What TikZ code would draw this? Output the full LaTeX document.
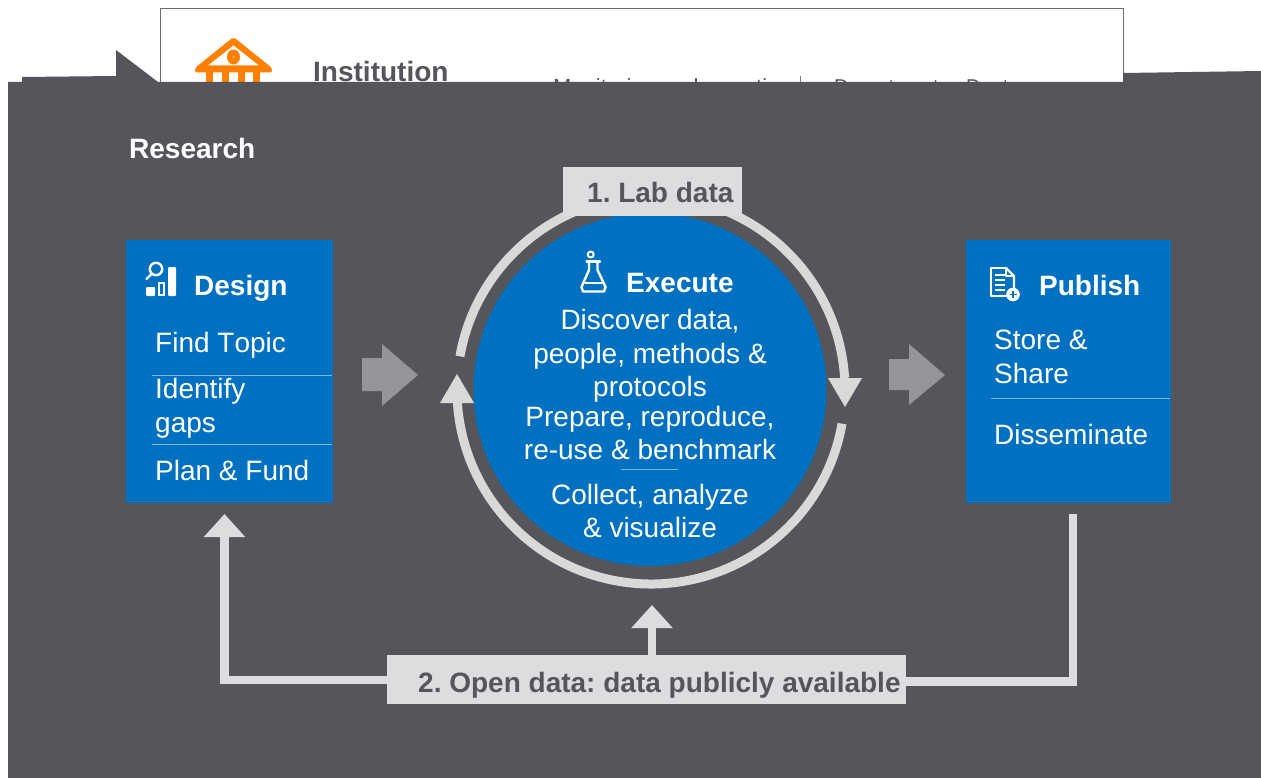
\documentclass[tikz,border=0pt]{standalone}
\usepackage{fontspec}
\setmainfont[Kerning=Off]{Liberation Sans}
\AtBeginDocument{\frenchspacing}
\usetikzlibrary{arrows.meta,calc}
\definecolor{darkbg}{HTML}{54565B}
\definecolor{boxblue}{HTML}{0070C0}
\definecolor{lightbox}{HTML}{DCDDDF}
\definecolor{ringgrey}{HTML}{D9D9D9}
\definecolor{blockgrey}{HTML}{939598}
\definecolor{divider}{HTML}{7FB4DE}
\definecolor{iconorange}{HTML}{FF8000}
\tikzset{
  big/.style={font=\fontsize{28}{34}\selectfont, inner sep=0pt, text=white},
  bigbold/.style={font=\fontsize{28}{34}\selectfont\bfseries, inner sep=0pt, text=white},
  lefttext/.style={anchor=base west},
  midtext/.style={anchor=base},
  bluebox/.style={fill=boxblue, draw=none, inner sep=0pt, rectangle},
  labelbox/.style={fill=lightbox, draw=none, inner sep=0pt, rectangle},
  labeltext/.style={font=\fontsize{28}{34}\selectfont\bfseries, text=darkbg, inner sep=0pt, anchor=base west},
  ring/.style={draw=ringgrey, line width=9pt},
  feed/.style={draw=lightbox, line width=8.5pt},
  feedtip/.style={-{Triangle[length=23pt,width=40pt]}},
  divline/.style={draw=divider, line width=0.8pt},
  iconline/.style={draw=white, line width=2.4pt, line join=round, line cap=round},
  blockarrow/.style={fill=blockgrey, draw=none},
}
\begin{document}
\begin{tikzpicture}[x=1pt,y=-1pt]
\useasboundingbox (0,0) rectangle (1261,778);
\fill[white] (0,0) rectangle (1261,778);
% institution panel
\draw[draw=gray!85!black, line width=1pt] (160.5,8.5) rectangle (1123.5,100);
\fill[iconorange,rounded corners=2pt] (233.5,37) -- (272,68) -- (272,72.5) -- (195,72.5) -- (195,68) -- cycle;
\fill[white] (233.5,45.5) -- (259,65.5) -- (208,65.5) -- cycle;
\fill[iconorange] (233.5,57) circle[x radius=6.5, y radius=7.5];
\fill[white!40!iconorange] (233.5,57) circle[radius=1.2];
\foreach \cx in {206,222,238,253}{\fill[iconorange] (\cx,72) rectangle ++(7,13);}
\node[lefttext, inner sep=0pt, text=darkbg, font=\fontsize{28}{34}\selectfont\bfseries] (inst) at (313,82) {Institution};
\node[lefttext, inner sep=0pt, text=darkbg, font=\fontsize{22}{26}\selectfont] (mon) at (553,95) {Monitoring and reporting};
\draw[draw=gray, line width=0.8pt] (800.5,76) -- (800.5,100);
\node[lefttext, inner sep=0pt, text=darkbg, font=\fontsize{20}{24}\selectfont] (dep1) at (834,93.5) {Department};
\node[lefttext, inner sep=0pt, text=darkbg, font=\fontsize{20}{24}\selectfont] (dep2) at (966,93.5) {Dept};
% dark panel
\fill[darkbg] (8,82) -- (22,82) -- (22,77) -- (116,76) -- (116,50) -- (158,82) -- (1123,82) -- (1123,73) -- (1261,71) -- (1261,778) -- (8,778) -- cycle;
\node[bigbold, lefttext] (research) at (129,159) {Research};
% rings
\coordinate (hub) at (651,390);
\coordinate (labtip) at (845,407);
\coordinate (looptip) at (457,374);
\draw[ring] ($(hub)+(-170:194)$) arc[start angle=-170,end angle=-3.8,radius=194] -- (845.5,379);
\draw[ring] ($(hub)+(10:194)$) arc[start angle=10,end angle=176.5,radius=194] -- (457,403);
\node[circle, fill=boxblue, draw=none, minimum size=353pt, inner sep=0pt] (exec) at (650,389.5) {};
\fill[ringgrey] (828,378) -- (862,378) -- (labtip) -- cycle;
\fill[ringgrey] (440,403) -- (474,403) -- (looptip) -- cycle;
% boxes
\node[bluebox, minimum width=207pt, minimum height=263pt] (design) at (229.5,371.5) {};
\node[bluebox, minimum width=205pt, minimum height=263pt] (publish) at (1068.5,371.5) {};
\node[labelbox, minimum width=179pt, minimum height=49pt] (lab) at (652.5,191.5) {};
\node[labeltext] (labtext) at (587,203) {1. Lab data};
\node[labelbox, minimum width=519pt, minimum height=49pt] (open) at (646.5,679.5) {};
\node[labeltext] (opentext) at (418,692) {2. Open data: data publicly available};
% feedback connectors
\coordinate (designin) at (224.5,514);
\coordinate (publishout) at (1073,514);
\coordinate (execin) at (652,605);
\draw[feed, feedtip] (open.west |- 0,680) -- (224.5,680) -- (designin);
\draw[feed] (open.east |- 0,681.5) -- (1073,681.5) -- (publishout);
\draw[feed, feedtip] (open.north -| execin) -- (execin);
% block arrows
\fill[blockarrow] (362,358) -- (382,358) -- (382,344) -- (418,375) -- (382,406) -- (382,391) -- (362,391) -- cycle;
\fill[blockarrow] (889,359) -- (909,359) -- (909,344) -- (945,375) -- (909,405) -- (909,390) -- (889,390) -- cycle;
% design texts
\node[bigbold, lefttext] (dt) at (194,295) {Design};
\node[big, lefttext] (d1) at (155,352) {Find Topic};
\draw[divline] (152,375) -- (332,375);
\node[big, lefttext] (d2) at (155,398) {Identify};
\node[big, lefttext] (d3) at (155,432) {gaps};
\draw[divline] (152,444.5) -- (332,444.5);
\node[big, lefttext] (d4) at (155,480) {Plan \& Fund};
% design icon
\draw[iconline] (156,269) circle[radius=6.2];
\draw[iconline] (151.5,274) -- (146.5,279);
\fill[white, rounded corners=1pt] (146,287) rectangle (155,296);
\draw[draw=white, line width=2pt] (159,283) rectangle (164,295);
\fill[white, rounded corners=1pt] (168,267) rectangle (176,296);
% execute texts
\node[bigbold, lefttext] (et) at (626,292) {Execute};
\node[big, midtext] (e1) at (650,329) {Discover data,};
\node[big, midtext] (e2) at (650,363) {people, methods \&};
\node[big, midtext] (e3) at (650,396) {protocols};
\node[big, midtext] (e4) at (650,426) {Prepare, reproduce,};
\node[big, midtext] (e5) at (650,459) {re-use \& benchmark};
\draw[divline] (621,469.5) -- (678,469.5);
\node[big, midtext] (e6) at (650,504) {Collect, analyze};
\node[big, midtext] (e7) at (650,537) {\& visualize};
% flask icon
\draw[iconline, line width=2pt] (590.7,254.5) circle[radius=3];
\draw[iconline] (586.5,261.5) -- (600,261.5);
\draw[iconline] (589,261.5) -- (589,270) -- (581.5,287) -- (583,291.5) -- (604,291.5) -- (605.5,287) -- (597.5,270) -- (597.5,261.5);
\draw[iconline, line width=2pt] (585,283) -- (602,283);
% publish texts
\node[bigbold, lefttext] (pt) at (1039,295) {Publish};
\node[big, lefttext] (p1) at (994,349) {Store \&};
\node[big, lefttext] (p2) at (994,383) {Share};
\draw[divline] (991,398) -- (1170,398);
\node[big, lefttext] (p3) at (994,444) {Disseminate};
% publish icon
\draw[iconline] (1006,268) -- (991,268) -- (991,296) -- (1006,296);
\draw[iconline] (1006,268) -- (1014,276) -- (1014,288);
\draw[iconline, line width=1.6pt] (1006,268) -- (1006,276) -- (1014,276);
\foreach \ly in {275,280,285,290}{\draw[draw=white, line width=1.8pt] (995,\ly) -- (1005,\ly);}
\fill[white] (1013,294.5) circle[radius=6.8];
\draw[draw=boxblue, line width=1.6pt] (1009.5,294.5) -- (1016.5,294.5) (1013,291) -- (1013,298);
\end{tikzpicture}
\end{document}
